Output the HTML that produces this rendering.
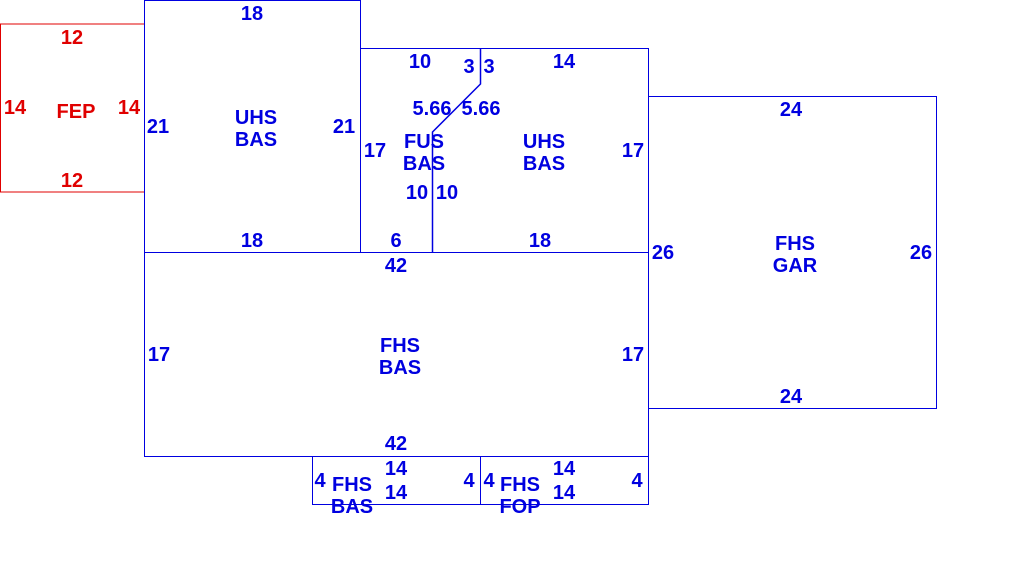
<!DOCTYPE html>
<html><head><style>html,body{margin:0;padding:0;background:#fff}svg{display:block}</style></head>
<body>
<svg width="1010" height="580" xmlns="http://www.w3.org/2000/svg" font-family="Liberation Sans, sans-serif" font-weight="bold" font-size="20" text-anchor="middle" dominant-baseline="central">
<rect width="1010" height="580" fill="#fff"/>
<g fill="none" stroke-width="1.2" shape-rendering="crispEdges">
<polyline points="144,24 0.5,24 0.5,192 144,192" stroke="#e00000"/>
<g stroke="#0000e0">
<rect x="144.5" y="0.5" width="216" height="252"/>
<rect x="360.5" y="48.5" width="288" height="204"/>
<rect x="648.5" y="96.5" width="288" height="312"/>
<rect x="144.5" y="252.5" width="504" height="204"/>
<rect x="312.5" y="456.5" width="168" height="48"/>
<rect x="480.5" y="456.5" width="168" height="48"/>
</g></g>
<polyline points="480.5,48 480.5,84 432.5,132 432.5,252" fill="none" stroke="#0000e0" stroke-width="1.5"/>
<g transform="translate(0,1)">
<g fill="#e00000">
<text x="72" y="37">12</text><text x="15" y="107">14</text><text x="76" y="111">FEP</text><text x="129" y="107">14</text><text x="72" y="180">12</text>
</g>
<g fill="#0000e0">
<text x="252" y="13">18</text><text x="158" y="126">21</text><text x="256" y="117">UHS</text><text x="256" y="139">BAS</text><text x="344" y="126">21</text><text x="252" y="240">18</text>
<text x="420" y="61">10</text><text x="469" y="66">3</text><text x="489" y="66">3</text><text x="564" y="61">14</text>
<text x="432" y="108">5.66</text><text x="481" y="108">5.66</text>
<text x="375" y="150">17</text><text x="424" y="141">FUS</text><text x="424" y="163">BAS</text>
<text x="544" y="141">UHS</text><text x="544" y="163">BAS</text><text x="633" y="150">17</text>
<text x="417" y="192">10</text><text x="447" y="192">10</text><text x="396" y="240">6</text><text x="540" y="240">18</text>
<text x="396" y="265">42</text><text x="159" y="354">17</text><text x="400" y="345">FHS</text><text x="400" y="367">BAS</text><text x="633" y="354">17</text><text x="396" y="443">42</text>
<text x="791" y="109">24</text><text x="663" y="252">26</text><text x="795" y="243">FHS</text><text x="795" y="265">GAR</text><text x="921" y="252">26</text><text x="791" y="396">24</text>
<text x="320" y="480">4</text><text x="352" y="484">FHS</text><text x="352" y="506">BAS</text><text x="396" y="468">14</text><text x="396" y="492">14</text><text x="469" y="480">4</text>
<text x="489" y="480">4</text><text x="520" y="484">FHS</text><text x="520" y="506">FOP</text><text x="564" y="468">14</text><text x="564" y="492">14</text><text x="637" y="480">4</text>
</g></g>
</svg>
</body></html>
